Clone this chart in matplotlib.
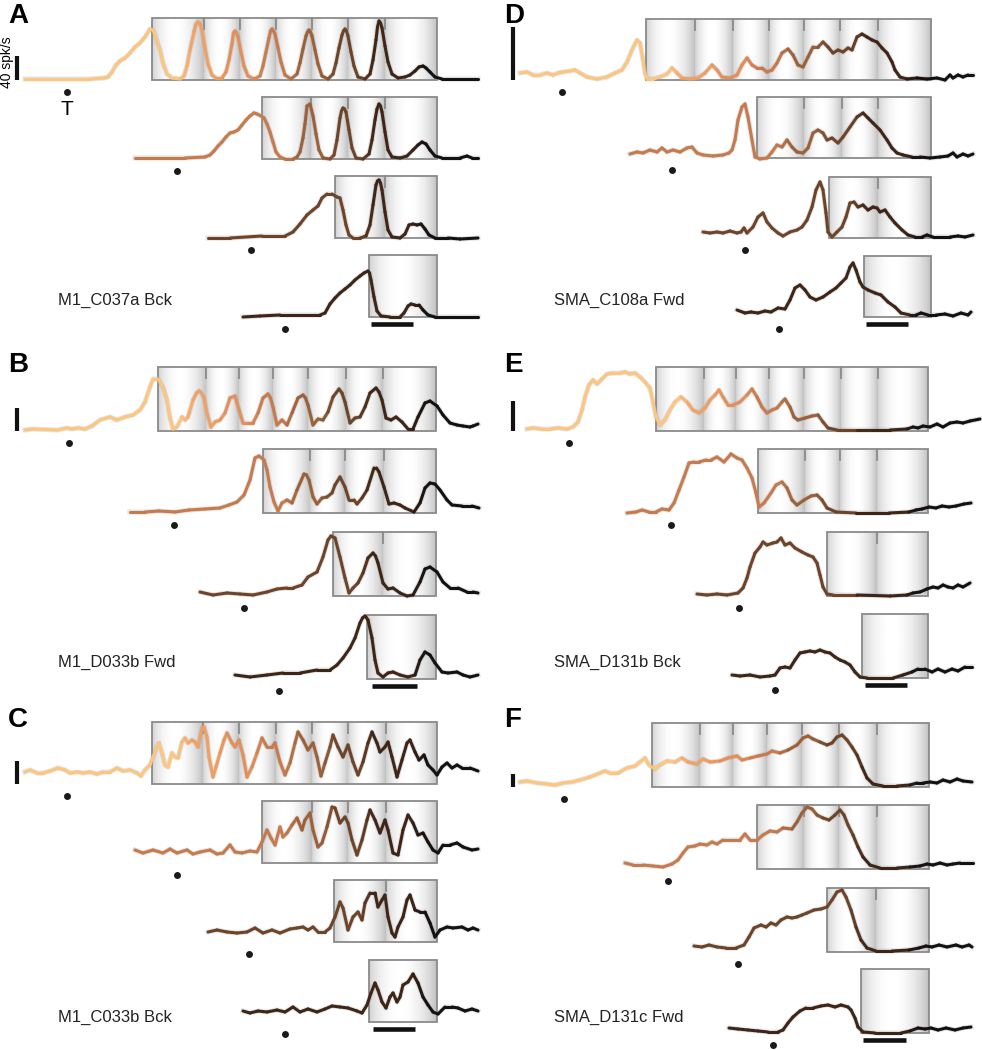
import numpy as np
import matplotlib.pyplot as plt
from matplotlib.collections import LineCollection
from matplotlib.colors import LinearSegmentedColormap
from matplotlib.patches import Rectangle
from matplotlib.transforms import Affine2D, blended_transform_factory

plt.rcParams['font.family'] = ['Liberation Sans', 'DejaVu Sans']

# Times in ms from target onset (T dot); rates in panel units (scale bar = 40 spk/s).
# Rows 1-4 of each panel: sequences with 7, 4, 2 and 1 produced intervals.

# ---- A: M1_C037a Bck ----
A1_T = [-420,-70,230,370,410,450,490,530,580,630,680,730,780,830,860,890,930,960,1000,1050,1130,1170,1200,1230,1270,1290,1310,1330,1350,1380,1410,1450,1490,1550,1590,1620,1650,1665,1680,1695,1710,1740,1770,1810,1870,1930,1960,1990,2020,2035,2050,2065,2080,2110,2140,2180,2240,2300,2330,2360,2390,2405,2420,2435,2450,2480,2510,2550,2610,2660,2690,2720,2750,2765,2780,2795,2810,2840,2870,2910,2980,3030,3060,3090,3105,3120,3135,3150,3180,3210,3250,3310,3380,3430,3480,3520,3560,3590,3630,3680,3750,4110]
A1_R = [1,1,1,2,3,8,15,19,22,27,33,37,43,51,50,42,30,17,6,2,1,4,14,30,48,56,58,56,50,32,16,5,2,2,8,20,36,47,49,47,43,28,14,4,1,4,14,28,42,49,51,49,46,32,18,5,1,6,17,31,44,48,50,48,44,30,16,4,1,6,17,32,45,49,51,49,44,28,14,3,1,6,20,40,53,59,57,52,34,18,6,2,3,5,9,13,14,12,8,3,1,1]
A2_T = [-420,-170,80,280,330,370,410,450,490,530,570,610,650,690,730,770,800,840,870,900,930,960,990,1030,1080,1160,1200,1230,1260,1280,1300,1330,1360,1390,1420,1460,1530,1570,1600,1630,1645,1660,1675,1690,1720,1750,1790,1860,1920,1950,1980,2000,2020,2035,2050,2080,2110,2150,2230,2300,2360,2410,2450,2490,2530,2580,2650,2830,2900,2950,3010]
A2_R = [1,1,1,2,4,8,13,17,22,26,27,29,34,39,43,46,45,43,41,35,27,17,7,2,0,0,2,7,21,35,53,55,43,25,9,1,0,4,19,41,48,51,50,47,29,11,1,0,5,19,39,50,55,53,47,27,9,2,1,3,9,14,17,15,9,3,1,1,3,1,1]
A3_T = [-430,-210,110,340,420,490,560,620,670,710,760,810,860,890,920,950,980,1020,1090,1150,1190,1220,1250,1265,1280,1295,1310,1340,1370,1410,1490,1540,1580,1620,1660,1700,1740,1780,1840,1970,2090,2270]
A3_R = [0,0,2,2,6,14,23,28,32,40,44,44,41,40,28,13,3,0,0,2,13,33,53,57,58,55,48,26,8,1,0,4,13,14,13,14,9,3,0,0,-1,0]
A4_T = [-420,-250,-50,150,350,400,450,500,550,600,650,700,750,790,830,845,860,890,920,960,1050,1150,1190,1230,1260,1300,1340,1380,1430,1500,1650,1930]
A4_R = [0,1,2,2,2,4,13,19,24,28,32,37,41,44,46,44,37,20,6,1,0,0,4,11,13,12,12,7,2,0,0,0]
A_BOX = [[850, 3700], [850, 2600], [840, 1860], [840, 1520]]
A_TICKS = [[1370, 1730, 2090, 2450, 2810, 3180], [1340, 1710, 2080], [1340], []]
A_BAR = [860, 1280]

# ---- B: M1_D033b Fwd ----
B1_T = [-440,-360,-120,-20,30,90,160,230,310,410,480,560,640,710,760,810,840,890,940,980,1010,1040,1080,1130,1160,1190,1240,1275,1300,1325,1350,1380,1420,1460,1510,1560,1610,1660,1700,1740,1790,1840,1890,1940,1990,2015,2040,2080,2130,2180,2230,2290,2340,2365,2390,2440,2490,2540,2590,2640,2700,2730,2760,2810,2860,2910,2960,3010,3070,3100,3130,3170,3220,3270,3330,3390,3440,3490,3560,3610,3680,3740,3810,3880,3940,4010,4040,4090]
B1_R = [1,2,1,3,2,3,2,5,11,14,11,14,16,21,29,44,52,52,44,31,13,2,4,14,11,14,31,38,40,38,33,18,4,9,11,18,33,35,21,8,8,8,18,33,37,33,24,6,11,6,18,33,36,33,26,6,12,11,19,34,42,38,29,8,13,14,24,38,43,39,31,13,11,14,9,2,2,14,28,30,25,16,8,6,5,4,5,7]
B2_T = [-440,-290,-150,10,150,310,460,550,630,700,760,810,850,900,930,960,1000,1040,1080,1130,1180,1230,1300,1325,1350,1390,1430,1480,1530,1580,1610,1660,1710,1750,1800,1830,1880,1930,2000,2025,2050,2100,2150,2200,2260,2310,2400,2460,2510,2560,2610,2660,2730,2780,2880,2980,3050]
B2_R = [1,1,2,1,3,4,5,8,11,18,33,55,57,53,43,26,11,2,10,13,10,23,39,38,33,16,9,15,16,20,28,36,26,13,13,9,15,23,45,45,41,26,9,10,8,5,1,10,25,30,29,23,13,8,7,7,5]
B3_T = [-440,-310,-170,-40,90,230,330,430,490,580,640,730,790,840,870,910,960,1010,1050,1090,1140,1190,1240,1290,1315,1340,1390,1440,1490,1560,1630,1690,1760,1810,1860,1930,1990,2060,2140,2230,2290,2340]
B3_R = [4,1,3,2,1,4,7,8,8,11,19,24,39,56,60,58,39,18,3,8,13,23,38,43,40,33,13,7,8,3,0,1,14,27,29,24,14,8,8,4,4,3]
B4_T = [-440,-290,-120,40,210,380,510,580,640,710,760,810,835,860,890,930,960,990,1040,1090,1140,1210,1290,1360,1410,1460,1510,1560,1630,1690,1780,1840,1910,1990]
B4_R = [4,2,4,6,6,9,9,14,21,31,41,56,61,63,59,41,19,6,2,6,7,4,2,4,19,27,24,16,7,6,7,4,2,4]
B_BOX = [[890, 3670], [890, 2620], [890, 1920], [880, 1570]]
B_TICKS = [[1370, 1700, 2040, 2390, 2770, 3140], [1360, 1710, 2100], [1390], []]
B_BAR = [930, 1380]

# ---- C: M1_C033b Bck ----
C1_T = [-420,-370,-300,-240,-170,-90,-20,30,100,160,230,300,360,430,500,560,630,700,740,780,830,860,900,920,950,980,1010,1050,1080,1110,1150,1180,1210,1250,1280,1310,1350,1370,1400,1420,1460,1490,1530,1570,1600,1650,1680,1720,1760,1800,1850,1900,1950,2000,2050,2080,2130,2180,2230,2280,2310,2360,2410,2460,2500,2540,2580,2630,2660,2710,2760,2810,2860,2910,2960,3010,3050,3100,3130,3180,3210,3250,3300,3350,3400,3430,3480,3520,3570,3610,3660,3700,3750,3800,3850,3900,3950,4030,4110]
C1_R = [12,14,11,11,13,16,14,11,12,11,12,10,12,12,16,13,14,11,8,14,19,27,37,41,31,19,17,31,27,26,42,46,41,44,42,37,56,57,47,27,7,17,31,44,51,41,37,44,29,7,17,31,46,37,37,41,22,9,21,41,52,44,34,41,27,8,21,37,49,37,27,39,22,9,22,41,52,41,32,37,42,27,7,24,41,44,32,24,29,19,14,9,17,21,16,19,16,16,13]
C2_T = [-420,-340,-240,-140,-70,0,100,160,230,330,400,460,530,580,650,730,800,850,900,940,980,1030,1060,1100,1150,1200,1250,1280,1330,1360,1410,1450,1500,1550,1580,1630,1680,1710,1750,1800,1850,1900,1930,1980,2030,2080,2110,2160,2210,2260,2310,2360,2410,2460,2510,2560,2610,2660,2730,2800,2860,2950,3010]
C2_R = [13,10,13,10,14,10,13,9,11,13,9,10,18,11,10,12,11,21,33,25,18,36,26,30,38,45,33,43,50,33,16,20,36,56,55,40,46,40,23,8,23,43,53,43,30,43,33,10,8,33,48,40,28,30,21,13,10,18,18,20,16,13,14]
C3_T = [-410,-320,-220,-120,-20,60,140,230,310,410,480,540,590,640,690,760,810,860,910,940,990,1040,1090,1130,1160,1210,1260,1290,1330,1360,1390,1430,1460,1490,1540,1580,1610,1660,1710,1760,1810,1860,1910,1980,2040,2130,2190,2240,2290]
C3_R = [10,12,10,9,10,14,9,12,9,13,14,15,12,15,10,10,14,25,40,34,12,25,30,22,39,49,49,35,42,47,25,9,5,15,25,42,47,32,30,30,19,5,12,15,14,15,12,14,12]
C4_T = [-420,-350,-270,-180,-80,0,80,150,230,320,400,470,550,630,720,770,820,860,900,930,970,1010,1050,1080,1120,1150,1180,1230,1280,1330,1380,1430,1480,1530,1600,1670,1730,1800,1870,1930]
C4_R = [11,9,11,10,12,10,15,10,13,10,13,16,15,14,11,9,17,29,39,32,20,14,25,29,20,25,37,40,48,39,25,17,10,8,15,15,14,11,13,11]
C_BOX = [[850, 3700], [850, 2600], [850, 1880], [840, 1520]]
C_TICKS = [[1360, 1720, 2090, 2450, 2810, 3190], [1350, 1710, 2090], [1370], []]
C_BAR = [880, 1300]

# ---- D: SMA_C108a Fwd ----
D1_T = [-420,-350,-290,-220,-150,-90,-40,10,80,130,180,250,350,450,530,600,650,700,750,780,810,830,850,910,980,1050,1100,1150,1200,1280,1360,1430,1500,1550,1600,1680,1750,1800,1850,1900,1950,2000,2050,2100,2150,2200,2260,2310,2360,2410,2460,2510,2560,2610,2660,2710,2760,2810,2860,2900,2950,3000,3050,3100,3150,3200,3250,3300,3330,3380,3450,3550,3650,3750,3830,3880,3910,3960,4010,4060,4110]
D1_R = [7,8,5,5,7,5,7,8,9,10,7,3,1,3,7,10,18,30,40,37,20,7,1,1,3,6,12,7,2,1,2,7,15,10,3,2,5,15,22,15,12,12,8,10,17,27,31,25,15,13,23,33,33,38,33,27,30,28,32,30,43,46,43,40,38,32,27,18,10,3,1,2,1,2,0,5,2,5,3,5,5]
D2_T = [-420,-350,-290,-220,-150,-100,-50,10,80,150,200,250,310,410,510,570,600,630,660,700,730,760,800,830,880,950,1000,1050,1100,1150,1200,1250,1310,1360,1410,1460,1510,1550,1600,1660,1710,1780,1850,1910,1960,2010,2080,2150,2200,2250,2310,2400,2480,2580,2680,2760,2810,2850,2910,2960,3010]
D2_R = [4,6,5,8,6,10,6,8,6,10,11,5,3,2,3,5,8,18,38,51,54,41,18,1,-1,0,6,13,11,18,11,6,5,10,25,28,25,18,20,15,21,31,41,45,40,35,28,18,10,5,3,1,1,0,1,2,5,1,4,2,4]
D3_T = [-420,-350,-280,-220,-150,-80,-40,-10,20,80,130,180,220,270,330,380,450,520,570,620,670,710,750,780,810,830,870,920,970,1010,1050,1090,1130,1180,1230,1280,1320,1350,1400,1450,1500,1570,1630,1700,1770,1820,1880,1970,2050,2130,2200,2280]
D3_R = [6,5,6,5,7,5,6,10,5,11,21,25,16,10,5,2,6,8,11,18,31,48,56,48,25,6,1,6,11,21,35,36,31,33,28,31,30,26,28,21,15,8,3,1,1,3,1,1,1,2,1,3]
D4_T = [-420,-340,-280,-210,-140,-80,-10,60,110,160,210,260,310,370,440,510,570,620,670,710,740,770,810,840,890,960,1020,1090,1160,1220,1310,1370,1420,1490,1570,1660,1740,1820,1890,1920]
D4_R = [7,4,5,4,6,5,9,8,17,29,32,27,20,17,20,25,29,34,39,50,54,47,35,30,27,24,22,15,10,4,2,2,4,2,2,3,1,4,2,5]
D_BOX = [[840, 3690], [850, 2590], [840, 1860], [850, 1520]]
D_TICKS = [[1330, 1710, 2070, 2420, 2780, 3160], [1320, 1700, 2060], [1330], []]
D_BAR = [870, 1290]

# ---- E: SMA_D131b Bck ----
E1_T = [-420,-360,-270,-190,-110,-20,40,90,130,160,200,240,280,330,380,440,510,560,610,660,710,760,810,840,870,910,960,1010,1060,1120,1180,1240,1300,1360,1410,1460,1500,1540,1590,1640,1710,1780,1830,1880,1930,1980,2030,2080,2130,2160,2210,2250,2290,2360,2430,2490,2540,2590,2680,2880,3040,3210,3380,3440,3490,3540,3610,3680,3740,3810,3880,3940,4010,4110]
E1_R = [2,3,2,2,3,2,4,9,21,34,46,51,47,52,57,58,58,59,57,58,54,49,43,29,14,6,11,21,29,34,29,21,18,23,31,36,41,34,26,26,29,36,42,34,24,18,21,23,29,32,24,14,11,13,15,16,9,3,1,1,1,1,2,4,3,5,4,7,4,8,9,8,10,12]
E2_T = [-440,-350,-290,-220,-150,-90,-20,30,80,130,180,230,280,350,400,460,530,600,660,710,760,810,850,880,930,1000,1050,1110,1160,1210,1260,1330,1400,1460,1510,1560,1650,1850,2180,2380,2450,2510,2580,2650,2710,2780,2850,2930,3000]
E2_R = [0,1,3,1,1,4,3,10,23,36,50,51,51,53,53,56,51,59,55,53,45,35,20,6,10,20,28,31,25,13,8,13,17,18,13,5,1,0,0,1,3,4,6,5,7,6,7,9,10]
E3_T = [-420,-320,-220,-120,-10,40,80,110,160,210,240,280,340,380,420,460,510,560,630,690,740,780,810,840,880,940,1180,1510,1680,1740,1810,1880,1940,1990,2040,2090,2140,2190,2240,2310]
E3_R = [2,1,2,1,3,8,18,29,43,49,54,51,53,54,58,51,53,48,44,41,39,33,21,9,2,1,1,0,1,3,4,7,9,8,11,9,8,11,9,13]
E4_T = [-430,-350,-250,-150,-50,0,50,100,150,200,250,300,350,400,450,500,550,600,650,700,750,800,850,920,1050,1180,1280,1370,1430,1500,1570,1630,1700,1770,1830,1900,1970]
E4_R = [3,2,3,1,2,3,10,11,10,18,25,26,27,26,28,26,25,21,18,16,13,6,1,0,0,0,3,6,9,9,6,9,6,9,7,11,11]
E_BOX = [[870, 3590], [870, 2570], [880, 1890], [870, 1530]]
E_TICKS = [[1350, 1670, 2000, 2350, 2720, 3090], [1340, 1690, 2060], [1380], []]
E_BAR = [900, 1320]

# ---- F: SMA_D131c Fwd ----
F1_T = [-440,-370,-270,-170,-90,-10,80,160,260,360,410,460,540,630,710,760,810,850,910,960,1030,1110,1180,1240,1330,1390,1460,1560,1640,1730,1780,1860,1940,2030,2080,2160,2240,2330,2390,2440,2490,2560,2630,2680,2730,2780,2830,2880,2930,2980,3030,3090,3190,3330,3460,3530,3590,3660,3730,3790,3860,3930,3990,4080]
F1_R = [5,6,4,3,2,4,5,7,10,14,16,14,14,19,21,25,29,22,18,22,26,25,29,25,23,28,25,26,29,31,27,29,31,33,36,34,37,42,49,51,48,45,42,44,50,52,47,40,32,20,9,3,1,1,2,4,4,5,4,7,5,8,6,5]
F2_T = [-430,-350,-250,-150,-50,40,100,150,200,270,320,390,440,490,550,640,720,770,820,890,950,1020,1090,1150,1240,1290,1340,1390,1440,1490,1550,1610,1670,1720,1760,1800,1850,1900,1950,2020,2120,2290,2420,2520,2590,2650,2720,2790,2850,2920,2990,3050]
F2_R = [6,4,4,3,2,5,9,16,22,23,25,24,27,25,29,29,29,35,29,29,34,38,37,41,40,47,56,62,60,54,51,49,54,59,54,44,34,22,12,4,1,1,2,3,5,4,6,4,5,6,6,6]
F3_T = [-440,-360,-290,-210,-120,-20,60,110,160,230,280,330,380,430,490,540,590,640,690,760,830,890,940,990,1040,1080,1130,1180,1230,1290,1380,1540,1710,1810,1880,1940,2010,2090,2180,2240,2310,2340]
F3_R = [6,5,7,5,4,4,7,15,24,27,25,29,27,32,35,34,35,37,39,42,43,45,52,60,62,55,42,25,12,4,1,1,2,4,6,5,7,5,7,5,7,5]
F4_T = [-440,-350,-250,-150,-50,50,100,150,200,270,330,400,480,550,620,680,750,780,820,850,900,1020,1150,1280,1370,1450,1520,1580,1650,1730,1820,1900,1980]
F4_R = [5,4,3,2,1,1,3,10,16,22,25,25,27,28,26,28,26,23,15,6,1,0,0,0,2,5,4,5,3,5,3,5,6]
F_BOX = [[880, 3650], [890, 2610], [890, 1910], [880, 1560]]
F_TICKS = [[1360, 1690, 2030, 2380, 2750, 3130], [1360, 1710, 2090], [1380], []]
F_BAR = [900, 1330]

NAMES = {'A': 'M1_C037a Bck', 'B': 'M1_D033b Fwd', 'C': 'M1_C033b Bck',
         'D': 'SMA_C108a Fwd', 'E': 'SMA_D131b Bck', 'F': 'SMA_D131c Fwd'}
SCALE = {'A': 24, 'B': 23, 'C': 23, 'D': 53, 'E': 30, 'F': 13}   # 40 spk/s

PANELS = {
    'A': ([(A1_T, A1_R), (A2_T, A2_R), (A3_T, A3_R), (A4_T, A4_R)], A_BOX, A_TICKS, A_BAR),
    'B': ([(B1_T, B1_R), (B2_T, B2_R), (B3_T, B3_R), (B4_T, B4_R)], B_BOX, B_TICKS, B_BAR),
    'C': ([(C1_T, C1_R), (C2_T, C2_R), (C3_T, C3_R), (C4_T, C4_R)], C_BOX, C_TICKS, C_BAR),
    'D': ([(D1_T, D1_R), (D2_T, D2_R), (D3_T, D3_R), (D4_T, D4_R)], D_BOX, D_TICKS, D_BAR),
    'E': ([(E1_T, E1_R), (E2_T, E2_R), (E3_T, E3_R), (E4_T, E4_R)], E_BOX, E_TICKS, E_BAR),
    'F': ([(F1_T, F1_R), (F2_T, F2_R), (F3_T, F3_R), (F4_T, F4_R)], F_BOX, F_TICKS, F_BAR),
}

# layout in figure pixels
END_X = {'A': 437, 'B': 436, 'C': 437, 'D': 931, 'E': 928, 'F': 929}
ROW_Y = {'A': [80, 159, 238, 317], 'B': [431, 513, 596, 679], 'C': [784, 863, 942, 1022],
         'D': [80, 158, 238, 317], 'E': [431, 513, 596, 678], 'F': [787, 869, 952, 1033]}
BOX_H = {'A': 62, 'B': 64, 'C': 62, 'D': 61, 'E': 64, 'F': 64}
COL_X = {'A': 0, 'B': 0, 'C': 0, 'D': 496, 'E': 496, 'F': 496}
LETTER_Y = {'A': 23, 'B': 372, 'C': 727, 'D': 23, 'E': 372, 'F': 727}
NAME_Y = {'A': 305, 'B': 667, 'C': 1022, 'D': 305, 'E': 667, 'F': 1022}

PALETTE = ['#151111', '#3f2516', '#6e4429', '#9c6139', '#c77a4b', '#e48f58', '#f2a062', '#fec57c']
cmap = LinearSegmentedColormap.from_list('seq', PALETTE)
# cylinder-like shading of each interval band: greyer at the right end
u = np.linspace(0, 1, 96)
lo = 0.81 - 0.06 * u
shade = (lo + (1 - lo) * np.sin(np.pi * u ** 0.87) ** 0.8)[None, :]

fig = plt.figure(figsize=(9.82, 10.5), dpi=100)
ax = fig.add_axes([0, 0, 1, 1])
ax.set_autoscale_on(False)
ax.set_xlim(0, 982)
ax.set_ylim(1050, 0)
ax.axis('off')

for p, (traces, boxes, ticks_all, bar) in PANELS.items():
    h = BOX_H[p]
    row_tr = []
    for i, (tt, rr) in enumerate(traces):
        t = np.asarray(tt, float)
        r = np.asarray(rr, float)
        b0, b1 = boxes[i]
        ticks = ticks_all[i]
        tr = Affine2D().scale(0.1, -1).translate(END_X[p] - b1 / 10, ROW_Y[p][i]) + ax.transData
        row_tr.append(tr)

        edges = [b0] + ticks + [b1]
        for e0, e1 in zip(edges[:-1], edges[1:]):
            ax.imshow(shade, extent=(e0, e1, 0, h), transform=tr, cmap='gray', vmin=0, vmax=1,
                      aspect='auto', interpolation='bilinear', zorder=1)
        ax.add_patch(Rectangle((b0, 0), b1 - b0, h, fill=False, ec='#8a8a8a', lw=1.3,
                               transform=tr, zorder=2))
        for tk in ticks:
            ax.plot([tk, tk], [h, h - 11], color='#8a8a8a', lw=1.3, transform=tr, zorder=2)

        # colour by interval counted back from the end of the sequence
        bounds = np.array(ticks + [b1], float) - 180
        tm = (t[:-1] + t[1:]) / 2
        rank = np.clip((bounds[None, :] - tm[:, None]) / 150 + 0.5, 0, 1).sum(axis=1)
        segs = np.stack([np.column_stack([t[:-1], r[:-1]]), np.column_stack([t[1:], r[1:]])], axis=1)
        ax.plot(t, r, color='#9da3ab', lw=3.6, alpha=0.3, transform=tr, zorder=3,
                solid_joinstyle='round')
        lc = LineCollection(segs, colors=cmap(rank / 7), linewidths=2.2, capstyle='round',
                            joinstyle='round', transform=tr, zorder=4)
        ax.add_collection(lc, autolim=False)
        ax.plot([0], [-12], 'o', color='#1a1a1a', ms=5, mec='none', transform=tr, zorder=4)

    ax.plot(bar, [-7, -7], color='#111111', lw=3.3, solid_capstyle='butt', transform=row_tr[3])
    sb = blended_transform_factory(ax.transData, row_tr[0])
    ax.plot([COL_X[p] + 17] * 2, [0, SCALE[p]], color='#111111', lw=3, solid_capstyle='butt',
            transform=sb)
    ax.text(COL_X[p] + 8, LETTER_Y[p], p, fontsize=20, fontweight='bold', va='baseline', ha='left')
    ax.text(COL_X[p] + 58, NAME_Y[p], NAMES[p], fontsize=12, va='baseline', ha='left', color='#222222')
    if p == 'A':
        ax.text(0, -35, 'T', fontsize=15, ha='center', va='baseline', transform=row_tr[0])
        ax.text(7, 62, '40 spk/s', fontsize=10, rotation=90, ha='center', va='center')

fig.savefig('out.png', dpi=100)
